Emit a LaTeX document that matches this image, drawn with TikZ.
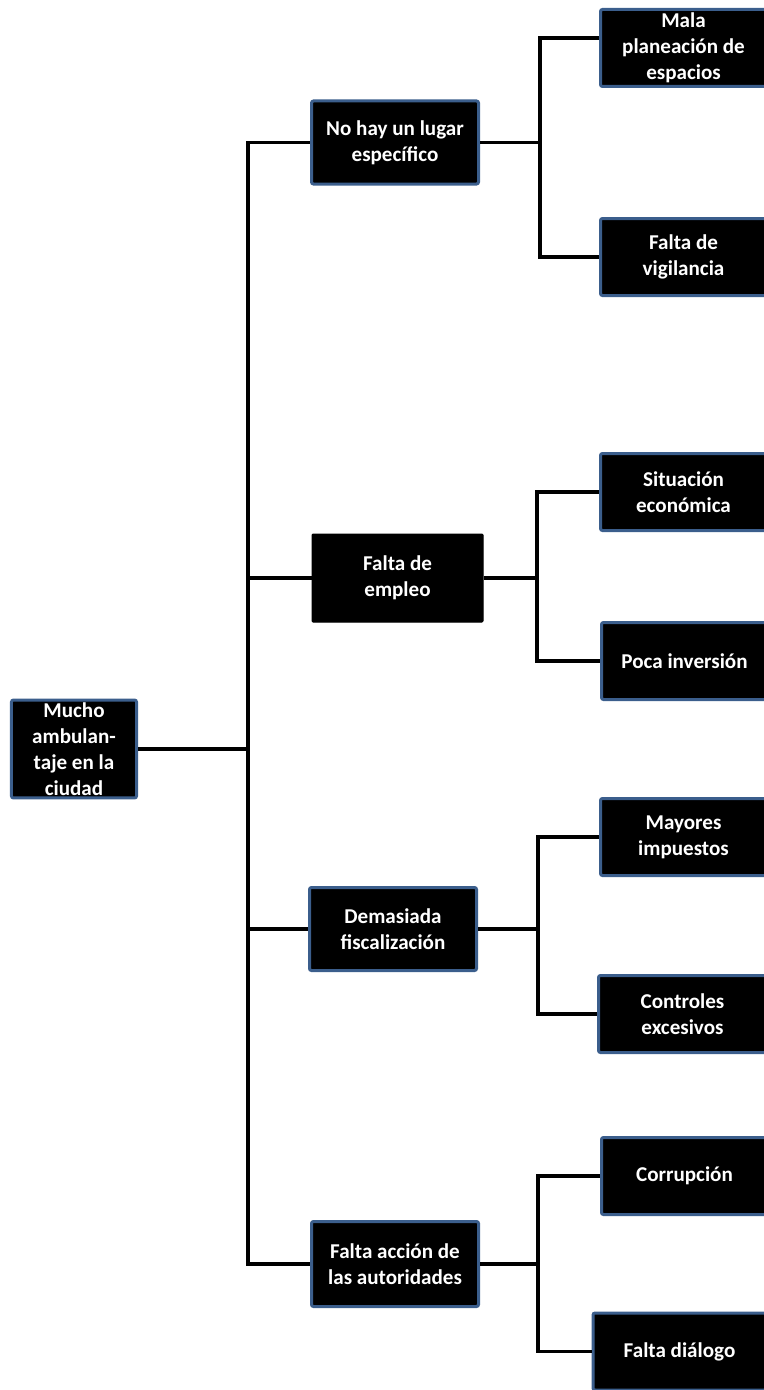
\documentclass[tikz,border=0pt]{standalone}
\usepackage{fontspec}
\setmainfont{Carlito}
\definecolor{boxblue}{HTML}{3B5E8C}
\tikzset{cause/.style={fill=black,draw=boxblue,line width=0.06cm,rounded corners=0.04cm,text=white,font=\bfseries\fontsize{12}{14.8}\selectfont,align=center,inner sep=0.05cm},
plain cause/.style={cause,draw=black,line width=0.02cm,rounded corners=0.02cm},
root/.style={cause,minimum width=2.50cm,minimum height=1.86cm},
level one/.style={cause,minimum width=3.34cm,minimum height=1.66cm},
level two/.style={cause,minimum width=3.32cm,minimum height=1.54cm},
branch/.style={line width=0.07cm,black}}

\begin{document}
\begin{tikzpicture}
\useasboundingbox (0,0) rectangle (15.28,-27.8);

%% effect
\node [root] (root) at (1.48,-14.98) {Mucho\\ambulan-\\taje en la\\ciudad};

%% first level causes
\node [level one] (lugar) at (7.90,-2.85) {No hay un lugar\\específico};
\node [level one,plain cause,minimum width=3.42cm,minimum height=1.76cm] (empleo) at (7.95,-11.56) {Falta de\\empleo};
\node [level one] (fisc) at (7.86,-18.58) {Demasiada\\fiscalización};
\node [level one,minimum height=1.70cm] (accion) at (7.90,-25.28) {Falta acción de\\las autoridades};

%% second level causes
\node [level two] (plan) at (13.67,-0.96) {Mala\\planeación de\\espacios};
\node [level two] (vigil) at (13.67,-5.14) {Falta de\\vigilancia};
\node [level two] (econ) at (13.67,-9.84) {Situación\\económica};
\node [level two] (inver) at (13.69,-13.22) {Poca inversión};
\node [level two] (impu) at (13.67,-16.74) {Mayores\\impuestos};
\node [level two,minimum width=3.36cm] (contr) at (13.65,-20.28) {Controles\\excesivos};
\node [level two] (corr) at (13.69,-23.52) {Corrupción};
\node [level two,minimum width=3.46cm] (dial) at (13.59,-27.03) {Falta diálogo};

%% x positions of the vertical lines
\coordinate (trunk) at (4.96,0);
\coordinate (forka) at (10.80,0);
\coordinate (forkb) at (10.74,0);
\coordinate (forkc) at (10.76,0);
\coordinate (forkd) at (10.76,0);

%% the top box is entered above its middle
\coordinate (planin) at ([yshift=0.2cm]plan.west);

%% trunk
\draw [branch] (root.east) -- (root.east -| trunk);
\draw [branch,line cap=rect] (lugar.west -| trunk) -- (accion.west -| trunk);
\draw [branch] (lugar.west -| trunk) -- (lugar.west);
\draw [branch] (empleo.west -| trunk) -- (empleo.west);
\draw [branch] (fisc.west -| trunk) -- (fisc.west);
\draw [branch] (accion.west -| trunk) -- (accion.west);

%% forks
\draw [branch] (lugar.east) -- (lugar.east -| forka);
\draw [branch,line cap=rect] (planin -| forka) -- (vigil.west -| forka);
\draw [branch] (planin -| forka) -- (planin);
\draw [branch] (vigil.west -| forka) -- (vigil.west);

\draw [branch] (empleo.east) -- (empleo.east -| forkb);
\draw [branch,line cap=rect] (econ.west -| forkb) -- (inver.west -| forkb);
\draw [branch] (econ.west -| forkb) -- (econ.west);
\draw [branch] (inver.west -| forkb) -- (inver.west);

\draw [branch] (fisc.east) -- (fisc.east -| forkc);
\draw [branch,line cap=rect] (impu.west -| forkc) -- (contr.west -| forkc);
\draw [branch] (impu.west -| forkc) -- (impu.west);
\draw [branch] (contr.west -| forkc) -- (contr.west);

\draw [branch] (accion.east) -- (accion.east -| forkd);
\draw [branch,line cap=rect] (corr.west -| forkd) -- (dial.west -| forkd);
\draw [branch] (corr.west -| forkd) -- (corr.west);
\draw [branch] (dial.west -| forkd) -- (dial.west);

\end{tikzpicture}
\end{document}
